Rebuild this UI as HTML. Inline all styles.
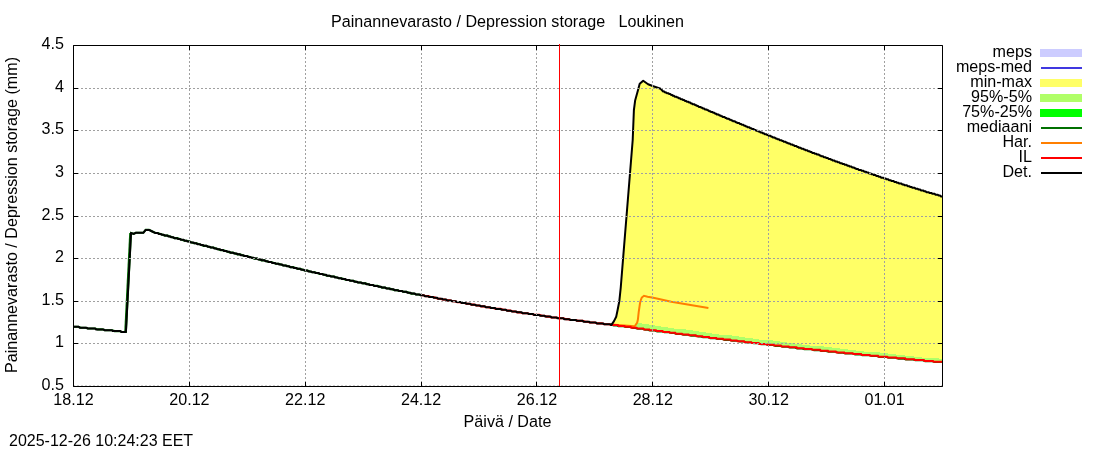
<!DOCTYPE html><html><head><meta charset="utf-8"><style>html,body{margin:0;padding:0;background:#fff;}svg{display:block;will-change:transform;}text{font-family:"Liberation Sans",sans-serif;font-size:16.13px;fill:#000;}</style></head><body>
<svg width="1100" height="450" viewBox="0 0 1100 450">
<rect width="1100" height="450" fill="#fff"/>
<polygon fill="#ffff66" points="611.30,324.20 614.00,321.10 616.20,316.70 617.60,310.00 619.30,301.30 620.70,288.00 632.70,140.00 633.90,110.00 635.20,100.20 637.90,90.40 639.70,83.80 643.20,80.70 648.10,84.20 652.60,86.00 660.60,88.70 663.20,91.53 663.80,91.53 664.41,91.53 665.01,92.39 665.61,92.39 666.22,92.39 666.82,93.24 667.42,93.24 668.03,93.24 668.63,93.24 669.23,94.09 669.84,94.09 670.44,94.09 671.05,94.95 671.65,94.95 672.25,94.95 672.86,95.80 673.46,95.80 674.06,95.80 674.67,96.65 675.27,96.65 675.87,96.65 676.48,96.65 677.08,97.50 677.68,97.50 678.29,97.50 678.89,98.36 679.49,98.36 680.10,98.36 680.70,99.21 681.30,99.21 681.91,99.21 682.51,99.21 683.11,100.06 683.72,100.06 684.32,100.06 684.92,100.91 685.53,100.91 686.13,100.91 686.74,101.77 687.34,101.77 687.94,101.77 688.55,101.77 689.15,102.62 689.75,102.62 690.36,102.62 690.96,103.47 691.56,103.47 692.17,103.47 692.77,104.32 693.37,104.32 693.98,104.32 694.58,104.32 695.18,105.18 695.79,105.18 696.39,105.18 696.99,106.03 697.60,106.03 698.20,106.03 698.80,106.88 699.41,106.88 700.01,106.88 700.62,106.88 701.22,107.73 701.82,107.73 702.43,107.73 703.03,108.59 703.63,108.59 704.24,108.59 704.84,109.44 705.44,109.44 706.05,109.44 706.65,109.44 707.25,110.29 707.86,110.29 708.46,110.29 709.06,111.14 709.67,111.14 710.27,111.14 710.87,111.99 711.48,111.99 712.08,111.99 712.68,111.99 713.29,112.85 713.89,112.85 714.50,112.85 715.10,113.70 715.70,113.70 716.31,113.70 716.91,114.55 717.51,114.55 718.12,114.55 718.72,114.55 719.32,115.40 719.93,115.40 720.53,115.40 721.13,116.26 721.74,116.26 722.34,116.26 722.94,117.11 723.55,117.11 724.15,117.11 724.75,117.11 725.36,117.96 725.96,117.96 726.56,117.96 727.17,118.81 727.77,118.81 728.37,118.81 728.98,118.81 729.58,119.67 730.19,119.67 730.79,119.67 731.39,120.52 732.00,120.52 732.60,120.52 733.20,121.37 733.81,121.37 734.41,121.37 735.01,121.37 735.62,122.22 736.22,122.22 736.82,122.22 737.43,123.08 738.03,123.08 738.63,123.08 739.24,123.08 739.84,123.93 740.44,123.93 741.05,123.93 741.65,124.78 742.25,124.78 742.86,124.78 743.46,124.78 744.07,125.63 744.67,125.63 745.27,125.63 745.88,126.49 746.48,126.49 747.08,126.49 747.69,127.34 748.29,127.34 748.89,127.34 749.50,127.34 750.10,128.19 750.70,128.19 751.31,128.19 751.91,129.05 752.51,129.05 753.12,129.05 753.72,129.05 754.32,129.90 754.93,129.90 755.53,129.90 756.13,130.75 756.74,130.75 757.34,130.75 757.95,130.75 758.55,131.60 759.15,131.60 759.76,131.60 760.36,132.45 760.96,132.45 761.57,132.45 762.17,132.45 762.77,133.31 763.38,133.31 763.98,133.31 764.58,134.16 765.19,134.16 765.79,134.16 766.39,134.16 767.00,135.01 767.60,135.01 768.20,135.01 768.81,135.87 769.41,135.87 770.01,135.87 770.62,135.87 771.22,136.72 771.82,136.72 772.43,136.72 773.03,137.57 773.64,137.57 774.24,137.57 774.84,137.57 775.45,138.42 776.05,138.42 776.65,138.42 777.26,139.28 777.86,139.28 778.46,139.28 779.07,139.28 779.67,140.13 780.27,140.13 780.88,140.13 781.48,140.13 782.08,140.98 782.69,140.98 783.29,140.98 783.89,141.83 784.50,141.83 785.10,141.83 785.70,141.83 786.31,142.69 786.91,142.69 787.52,142.69 788.12,143.54 788.72,143.54 789.33,143.54 789.93,143.54 790.53,144.39 791.14,144.39 791.74,144.39 792.34,144.39 792.95,145.24 793.55,145.24 794.15,145.24 794.76,146.10 795.36,146.10 795.96,146.10 796.57,146.10 797.17,146.95 797.77,146.95 798.38,146.95 798.98,147.80 799.58,147.80 800.19,147.80 800.79,147.80 801.40,148.65 802.00,148.65 802.60,148.65 803.21,148.65 803.81,149.50 804.41,149.50 805.02,149.50 805.62,150.36 806.22,150.36 806.83,150.36 807.43,150.36 808.03,151.21 808.64,151.21 809.24,151.21 809.84,151.21 810.45,152.06 811.05,152.06 811.65,152.06 812.26,152.91 812.86,152.91 813.46,152.91 814.07,152.91 814.67,153.77 815.27,153.77 815.88,153.77 816.48,153.77 817.09,154.62 817.69,154.62 818.29,154.62 818.90,154.62 819.50,155.47 820.10,155.47 820.71,155.47 821.31,156.32 821.91,156.32 822.52,156.32 823.12,156.32 823.72,157.18 824.33,157.18 824.93,157.18 825.53,157.18 826.14,158.03 826.74,158.03 827.34,158.03 827.95,158.03 828.55,158.88 829.15,158.88 829.76,158.88 830.36,158.88 830.97,159.73 831.57,159.73 832.17,159.73 832.78,160.59 833.38,160.59 833.98,160.59 834.59,160.59 835.19,161.44 835.79,161.44 836.40,161.44 837.00,161.44 837.60,162.29 838.21,162.29 838.81,162.29 839.41,162.29 840.02,163.14 840.62,163.14 841.22,163.14 841.83,163.14 842.43,164.00 843.03,164.00 843.64,164.00 844.24,164.00 844.85,164.85 845.45,164.85 846.05,164.85 846.66,164.85 847.26,165.70 847.86,165.70 848.47,165.70 849.07,165.70 849.67,166.56 850.28,166.56 850.88,166.56 851.48,166.56 852.09,167.41 852.69,167.41 853.29,167.41 853.90,167.41 854.50,168.26 855.10,168.26 855.71,168.26 856.31,169.11 856.91,169.11 857.52,169.11 858.12,169.11 858.72,169.97 859.33,169.97 859.93,169.97 860.54,169.97 861.14,169.97 861.74,170.82 862.35,170.82 862.95,170.82 863.55,170.82 864.16,171.67 864.76,171.67 865.36,171.67 865.97,171.67 866.57,172.52 867.17,172.52 867.78,172.52 868.38,172.52 868.98,173.38 869.59,173.38 870.19,173.38 870.79,173.38 871.40,174.23 872.00,174.23 872.60,174.23 873.21,174.23 873.81,175.08 874.42,175.08 875.02,175.08 875.62,175.08 876.23,175.93 876.83,175.93 877.43,175.93 878.04,175.93 878.64,176.78 879.24,176.78 879.85,176.78 880.45,176.78 881.05,177.64 881.66,177.64 882.26,177.64 882.86,177.64 883.47,177.64 884.07,178.49 884.67,178.49 885.28,178.49 885.88,178.49 886.48,179.34 887.09,179.34 887.69,179.34 888.30,179.34 888.90,180.19 889.50,180.19 890.11,180.19 890.71,180.19 891.31,181.05 891.92,181.05 892.52,181.05 893.12,181.05 893.73,181.05 894.33,181.90 894.93,181.90 895.54,181.90 896.14,181.90 896.74,182.75 897.35,182.75 897.95,182.75 898.55,182.75 899.16,183.61 899.76,183.61 900.36,183.61 900.97,183.61 901.57,183.61 902.17,184.46 902.78,184.46 903.38,184.46 903.99,184.46 904.59,185.31 905.19,185.31 905.80,185.31 906.40,185.31 907.00,185.31 907.61,186.16 908.21,186.16 908.81,186.16 909.42,186.16 910.02,187.02 910.62,187.02 911.23,187.02 911.83,187.02 912.43,187.87 913.04,187.87 913.64,187.87 914.24,187.87 914.85,187.87 915.45,188.72 916.05,188.72 916.66,188.72 917.26,188.72 917.87,188.72 918.47,189.57 919.07,189.57 919.68,189.57 920.28,189.57 920.88,190.43 921.49,190.43 922.09,190.43 922.69,190.43 923.30,190.43 923.90,191.28 924.50,191.28 925.11,191.28 925.71,191.28 926.31,192.13 926.92,192.13 927.52,192.13 928.12,192.13 928.73,192.13 929.33,192.98 929.93,192.98 930.54,192.98 931.14,192.98 931.75,192.98 932.35,193.84 932.95,193.84 933.56,193.84 934.16,193.84 934.76,193.84 935.37,194.69 935.97,194.69 936.57,194.69 937.18,194.69 937.78,194.69 938.38,195.54 938.99,195.54 939.59,195.54 940.19,195.54 940.80,196.39 941.40,196.39 942.00,196.39 942.50,196.39 942.50,361.78 942.00,361.78 941.40,361.78 940.80,361.78 940.19,361.78 939.59,361.78 938.99,361.78 938.38,361.78 937.78,361.78 937.17,361.78 936.57,361.78 935.97,361.78 935.36,361.78 934.76,361.78 934.16,361.78 933.55,361.78 932.95,360.93 932.35,360.93 931.74,360.93 931.14,360.93 930.54,360.93 929.93,360.93 929.33,360.93 928.73,360.93 928.12,360.93 927.52,360.93 926.92,360.93 926.31,360.93 925.71,360.93 925.11,360.93 924.50,360.93 923.90,360.07 923.30,360.07 922.69,360.07 922.09,360.07 921.48,360.07 920.88,360.07 920.28,360.07 919.67,360.07 919.07,360.07 918.47,360.07 917.86,360.07 917.26,360.07 916.66,360.07 916.05,360.07 915.45,360.07 914.85,360.07 914.24,359.22 913.64,359.22 913.04,359.22 912.43,359.22 911.83,359.22 911.23,359.22 910.62,359.22 910.02,359.22 909.42,359.22 908.81,359.22 908.21,359.22 907.60,359.22 907.00,359.22 906.40,359.22 905.79,359.22 905.19,358.37 904.59,358.37 903.98,358.37 903.38,358.37 902.78,358.37 902.17,358.37 901.57,358.37 900.97,358.37 900.36,358.37 899.76,358.37 899.16,358.37 898.55,358.37 897.95,358.37 897.35,358.37 896.74,358.37 896.14,357.51 895.54,357.51 894.93,357.51 894.33,357.51 893.72,357.51 893.12,357.51 892.52,357.51 891.91,357.51 891.31,357.51 890.71,357.51 890.10,357.51 889.50,357.51 888.90,357.51 888.29,357.51 887.69,357.51 887.09,356.66 886.48,356.66 885.88,356.66 885.28,356.66 884.67,356.66 884.07,356.66 883.47,356.66 882.86,356.66 882.26,356.66 881.66,356.66 881.05,356.66 880.45,356.66 879.85,356.66 879.24,356.66 878.64,356.66 878.03,355.81 877.43,355.81 876.83,355.81 876.22,355.81 875.62,355.81 875.02,355.81 874.41,355.81 873.81,355.81 873.21,355.81 872.60,355.81 872.00,355.81 871.40,355.81 870.79,355.81 870.19,355.81 869.59,354.96 868.98,354.96 868.38,354.96 867.78,354.96 867.17,354.96 866.57,354.96 865.97,354.96 865.36,354.96 864.76,354.96 864.15,354.96 863.55,354.96 862.95,354.96 862.34,354.96 861.74,354.96 861.14,354.11 860.53,354.11 859.93,354.11 859.33,354.11 858.72,354.11 858.12,354.11 857.52,354.11 856.91,354.11 856.31,354.11 855.71,354.11 855.10,354.11 854.50,354.11 853.90,354.11 853.29,354.11 852.69,353.25 852.09,353.25 851.48,353.25 850.88,353.25 850.27,353.25 849.67,353.25 849.07,353.25 848.46,353.25 847.86,353.25 847.26,353.25 846.65,353.25 846.05,353.25 845.45,353.25 844.84,353.25 844.24,352.40 843.64,352.40 843.03,352.40 842.43,352.40 841.83,352.40 841.22,352.40 840.62,352.40 840.02,352.40 839.41,352.40 838.81,352.40 838.21,352.40 837.60,352.40 837.00,352.40 836.40,352.40 835.79,351.55 835.19,351.55 834.58,351.55 833.98,351.55 833.38,351.55 832.77,351.55 832.17,351.55 831.57,351.55 830.96,351.55 830.36,351.55 829.76,351.55 829.15,351.55 828.55,351.55 827.95,350.69 827.34,350.69 826.74,350.69 826.14,350.69 825.53,350.69 824.93,350.69 824.33,350.69 823.72,350.69 823.12,350.69 822.52,350.69 821.91,350.69 821.31,350.69 820.70,350.69 820.10,349.84 819.50,349.84 818.89,349.84 818.29,349.84 817.69,349.84 817.08,349.84 816.48,349.84 815.88,349.84 815.27,349.84 814.67,349.84 814.07,349.84 813.46,349.84 812.86,349.84 812.26,349.84 811.65,348.99 811.05,348.99 810.45,348.99 809.84,348.99 809.24,348.99 808.64,348.99 808.03,348.99 807.43,348.99 806.82,348.99 806.22,348.99 805.62,348.99 805.01,348.99 804.41,348.99 803.81,348.14 803.20,348.14 802.60,348.14 802.00,348.14 801.39,348.14 800.79,348.14 800.19,348.14 799.58,348.14 798.98,348.14 798.38,348.14 797.77,348.14 797.17,348.14 796.57,347.29 795.96,347.29 795.36,347.29 794.76,347.29 794.15,347.29 793.55,347.29 792.95,347.29 792.34,347.29 791.74,347.29 791.13,347.29 790.53,347.29 789.93,347.29 789.32,347.29 788.72,346.43 788.12,346.43 787.51,346.43 786.91,346.43 786.31,346.43 785.70,346.43 785.10,346.43 784.50,346.43 783.89,346.43 783.29,346.43 782.69,346.43 782.08,346.43 781.48,346.43 780.88,345.58 780.27,345.58 779.67,345.58 779.07,345.58 778.46,345.58 777.86,345.58 777.25,345.58 776.65,345.58 776.05,345.58 775.44,345.58 774.84,345.58 774.24,345.58 773.63,344.73 773.03,344.73 772.43,344.73 771.82,344.73 771.22,344.73 770.62,344.73 770.01,344.73 769.41,344.73 768.81,344.73 768.20,344.73 767.60,344.73 767.00,344.73 766.39,343.88 765.79,343.88 765.19,343.88 764.58,343.88 763.98,343.88 763.37,343.88 762.77,343.88 762.17,343.88 761.56,343.88 760.96,343.88 760.36,343.88 759.75,343.88 759.15,343.88 758.55,343.02 757.94,343.02 757.34,343.02 756.74,343.02 756.13,343.02 755.53,343.02 754.93,343.02 754.32,343.02 753.72,343.02 753.12,343.02 752.51,343.02 751.91,343.02 751.31,342.17 750.70,342.17 750.10,342.17 749.50,342.17 748.89,342.17 748.29,342.17 747.68,342.17 747.08,342.17 746.48,342.17 745.87,342.17 745.27,342.17 744.67,342.17 744.06,341.32 743.46,341.32 742.86,341.32 742.25,341.32 741.65,341.32 741.05,341.32 740.44,341.32 739.84,341.32 739.24,341.32 738.63,341.32 738.03,341.32 737.43,341.32 736.82,340.46 736.22,340.46 735.62,340.46 735.01,340.46 734.41,340.46 733.80,340.46 733.20,340.46 732.60,340.46 731.99,340.46 731.39,340.46 730.79,340.46 730.18,339.61 729.58,339.61 728.98,339.61 728.37,339.61 727.77,339.61 727.17,339.61 726.56,339.61 725.96,339.61 725.36,339.61 724.75,339.61 724.15,339.61 723.55,339.61 722.94,338.76 722.34,338.76 721.74,338.76 721.13,338.76 720.53,338.76 719.92,338.76 719.32,338.76 718.72,338.76 718.11,338.76 717.51,338.76 716.91,338.76 716.30,337.91 715.70,337.91 715.10,337.91 714.49,337.91 713.89,337.91 713.29,337.91 712.68,337.91 712.08,337.91 711.48,337.91 710.87,337.91 710.27,337.91 709.67,337.91 709.06,337.06 708.46,337.06 707.86,337.06 707.25,337.06 706.65,337.06 706.05,337.06 705.44,337.06 704.84,337.06 704.23,337.06 703.63,337.06 703.03,337.06 702.42,336.20 701.82,336.20 701.22,336.20 700.61,336.20 700.01,336.20 699.41,336.20 698.80,336.20 698.20,336.20 697.60,336.20 696.99,336.20 696.39,336.20 695.79,335.35 695.18,335.35 694.58,335.35 693.98,335.35 693.37,335.35 692.77,335.35 692.17,335.35 691.56,335.35 690.96,335.35 690.35,335.35 689.75,335.35 689.15,335.35 688.54,334.50 687.94,334.50 687.34,334.50 686.73,334.50 686.13,334.50 685.53,334.50 684.92,334.50 684.32,334.50 683.72,334.50 683.11,334.50 682.51,334.50 681.91,333.64 681.30,333.64 680.70,333.64 680.10,333.64 679.49,333.64 678.89,333.64 678.29,333.64 677.68,333.64 677.08,333.64 676.47,333.64 675.87,333.64 675.27,332.79 674.66,332.79 674.06,332.79 673.46,332.79 672.85,332.79 672.25,332.79 671.65,332.79 671.04,332.79 670.44,332.79 669.84,332.79 669.23,331.94 668.63,331.94 668.03,331.94 667.42,331.94 666.82,331.94 666.22,331.94 665.61,331.94 665.01,331.94 664.41,331.94 663.80,331.94 663.20,331.94 662.60,331.09 661.99,331.09 661.39,331.09 660.78,331.09 660.18,331.09 659.58,331.09 658.97,331.09 658.37,331.09 657.77,331.09 657.16,331.09 656.56,331.09 655.96,330.24 655.35,330.24 654.75,330.24 654.15,330.24 653.54,330.24 652.94,330.24 652.34,330.24 651.73,330.24 651.13,330.24 650.53,330.24 649.92,330.24 649.32,329.38 648.72,329.38 648.11,329.38 647.51,329.38 646.90,329.38 646.30,329.38 645.70,329.38 645.09,329.38 644.49,329.38 643.89,329.38 643.28,328.53 642.68,328.53 642.08,328.53 641.47,328.53 640.87,328.53 640.27,328.53 639.66,328.53 639.06,328.53 638.46,328.53 637.85,328.53 637.25,328.53 636.65,327.68 636.04,327.68 635.44,327.68 634.84,327.68 634.23,327.68 633.63,327.68 633.02,327.68 632.42,327.68 631.82,327.68 631.21,327.68 630.61,326.82 630.01,326.82 629.40,326.82 628.80,326.82 628.20,326.82 627.59,326.82 626.99,326.82 626.39,326.82 625.78,326.82 625.18,326.82 624.58,325.97 623.97,325.97 623.37,325.97 622.77,325.97 622.16,325.97 621.56,325.97 620.96,325.97 620.35,325.97 619.75,325.97 619.15,325.97 618.54,325.97 617.94,325.12 617.33,325.12 616.73,325.12 616.13,325.12 615.52,325.12 614.92,325.12 614.32,325.12 613.71,325.12 613.11,325.12 612.51,325.12 611.90,324.27 611.30,324.27"/>
<polygon fill="#b0ff68" shape-rendering="crispEdges" points="636.00,323.50 640.00,323.41 640.60,323.41 641.21,323.41 641.81,323.41 642.41,323.41 643.02,324.27 643.62,324.27 644.22,324.27 644.83,324.27 645.43,324.27 646.03,324.27 646.64,324.27 647.24,324.27 647.85,324.27 648.45,324.27 649.05,325.12 649.66,325.12 650.26,325.12 650.86,325.12 651.47,325.12 652.07,325.12 652.67,325.12 653.28,325.12 653.88,325.12 654.48,325.12 655.09,325.97 655.69,325.97 656.29,325.97 656.90,325.97 657.50,325.97 658.10,325.97 658.71,325.97 659.31,325.97 659.91,325.97 660.52,325.97 661.12,326.82 661.72,326.82 662.33,326.82 662.93,326.82 663.54,326.82 664.14,326.82 664.74,326.82 665.35,326.82 665.95,326.82 666.55,326.82 667.16,326.82 667.76,327.68 668.36,327.68 668.97,327.68 669.57,327.68 670.17,327.68 670.78,327.68 671.38,327.68 671.98,327.68 672.59,327.68 673.19,327.68 673.79,328.53 674.40,328.53 675.00,328.53 675.60,328.53 676.21,328.53 676.81,328.53 677.42,328.53 678.02,328.53 678.62,328.53 679.23,328.53 679.83,328.53 680.43,329.38 681.04,329.38 681.64,329.38 682.24,329.38 682.85,329.38 683.45,329.38 684.05,329.38 684.66,329.38 685.26,329.38 685.86,329.38 686.47,330.24 687.07,330.24 687.67,330.24 688.28,330.24 688.88,330.24 689.48,330.24 690.09,330.24 690.69,330.24 691.30,330.24 691.90,330.24 692.50,330.24 693.11,331.09 693.71,331.09 694.31,331.09 694.92,331.09 695.52,331.09 696.12,331.09 696.73,331.09 697.33,331.09 697.93,331.09 698.54,331.09 699.14,331.94 699.74,331.94 700.35,331.94 700.95,331.94 701.55,331.94 702.16,331.94 702.76,331.94 703.36,331.94 703.97,331.94 704.57,331.94 705.17,331.94 705.78,332.79 706.38,332.79 706.99,332.79 707.59,332.79 708.19,332.79 708.80,332.79 709.40,332.79 710.00,332.79 710.61,332.79 711.21,332.79 711.81,332.79 712.42,333.64 713.02,333.64 713.62,333.64 714.23,333.64 714.83,333.64 715.43,333.64 716.04,333.64 716.64,333.64 717.24,333.64 717.85,333.64 718.45,333.64 719.05,334.50 719.66,334.50 720.26,334.50 720.87,334.50 721.47,334.50 722.07,334.50 722.68,334.50 723.28,334.50 723.88,334.50 724.49,334.50 725.09,334.50 725.69,335.35 726.30,335.35 726.90,335.35 727.50,335.35 728.11,335.35 728.71,335.35 729.31,335.35 729.92,335.35 730.52,335.35 731.12,335.35 731.73,335.35 732.33,336.20 732.93,336.20 733.54,336.20 734.14,336.20 734.75,336.20 735.35,336.20 735.95,336.20 736.56,336.20 737.16,336.20 737.76,336.20 738.37,336.20 738.97,337.06 739.57,337.06 740.18,337.06 740.78,337.06 741.38,337.06 741.99,337.06 742.59,337.06 743.19,337.06 743.80,337.06 744.40,337.06 745.00,337.06 745.61,337.91 746.21,337.91 746.81,337.91 747.42,337.91 748.02,337.91 748.62,337.91 749.23,337.91 749.83,337.91 750.44,337.91 751.04,337.91 751.64,337.91 752.25,337.91 752.85,338.76 753.45,338.76 754.06,338.76 754.66,338.76 755.26,338.76 755.87,338.76 756.47,338.76 757.07,338.76 757.68,338.76 758.28,338.76 758.88,338.76 759.49,339.61 760.09,339.61 760.69,339.61 761.30,339.61 761.90,339.61 762.50,339.61 763.11,339.61 763.71,339.61 764.32,339.61 764.92,339.61 765.52,339.61 766.13,339.61 766.73,340.46 767.33,340.46 767.94,340.46 768.54,340.46 769.14,340.46 769.75,340.46 770.35,340.46 770.95,340.46 771.56,340.46 772.16,340.46 772.76,340.46 773.37,341.32 773.97,341.32 774.57,341.32 775.18,341.32 775.78,341.32 776.38,341.32 776.99,341.32 777.59,341.32 778.20,341.32 778.80,341.32 779.40,341.32 780.01,341.32 780.61,342.17 781.21,342.17 781.82,342.17 782.42,342.17 783.02,342.17 783.63,342.17 784.23,342.17 784.83,342.17 785.44,342.17 786.04,342.17 786.64,342.17 787.25,342.17 787.85,343.02 788.45,343.02 789.06,343.02 789.66,343.02 790.26,343.02 790.87,343.02 791.47,343.02 792.07,343.02 792.68,343.02 793.28,343.02 793.89,343.02 794.49,343.02 795.09,343.88 795.70,343.88 796.30,343.88 796.90,343.88 797.51,343.88 798.11,343.88 798.71,343.88 799.32,343.88 799.92,343.88 800.52,343.88 801.13,343.88 801.73,343.88 802.33,344.73 802.94,344.73 803.54,344.73 804.14,344.73 804.75,344.73 805.35,344.73 805.95,344.73 806.56,344.73 807.16,344.73 807.77,344.73 808.37,344.73 808.97,344.73 809.58,344.73 810.18,345.58 810.78,345.58 811.39,345.58 811.99,345.58 812.59,345.58 813.20,345.58 813.80,345.58 814.40,345.58 815.01,345.58 815.61,345.58 816.21,345.58 816.82,345.58 817.42,346.43 818.02,346.43 818.63,346.43 819.23,346.43 819.83,346.43 820.44,346.43 821.04,346.43 821.65,346.43 822.25,346.43 822.85,346.43 823.46,346.43 824.06,346.43 824.66,347.29 825.27,347.29 825.87,347.29 826.47,347.29 827.08,347.29 827.68,347.29 828.28,347.29 828.89,347.29 829.49,347.29 830.09,347.29 830.70,347.29 831.30,347.29 831.90,347.29 832.51,348.14 833.11,348.14 833.71,348.14 834.32,348.14 834.92,348.14 835.52,348.14 836.13,348.14 836.73,348.14 837.34,348.14 837.94,348.14 838.54,348.14 839.15,348.14 839.75,348.14 840.35,348.99 840.96,348.99 841.56,348.99 842.16,348.99 842.77,348.99 843.37,348.99 843.97,348.99 844.58,348.99 845.18,348.99 845.78,348.99 846.39,348.99 846.99,348.99 847.59,348.99 848.20,349.84 848.80,349.84 849.40,349.84 850.01,349.84 850.61,349.84 851.22,349.84 851.82,349.84 852.42,349.84 853.03,349.84 853.63,349.84 854.23,349.84 854.84,349.84 855.44,349.84 856.04,350.69 856.65,350.69 857.25,350.69 857.85,350.69 858.46,350.69 859.06,350.69 859.66,350.69 860.27,350.69 860.87,350.69 861.47,350.69 862.08,350.69 862.68,350.69 863.28,350.69 863.89,351.55 864.49,351.55 865.10,351.55 865.70,351.55 866.30,351.55 866.91,351.55 867.51,351.55 868.11,351.55 868.72,351.55 869.32,351.55 869.92,351.55 870.53,351.55 871.13,351.55 871.73,352.40 872.34,352.40 872.94,352.40 873.54,352.40 874.15,352.40 874.75,352.40 875.35,352.40 875.96,352.40 876.56,352.40 877.16,352.40 877.77,352.40 878.37,352.40 878.97,352.40 879.58,352.40 880.18,353.25 880.79,353.25 881.39,353.25 881.99,353.25 882.60,353.25 883.20,353.25 883.80,353.25 884.41,353.25 885.01,353.25 885.61,353.25 886.22,353.25 886.82,353.25 887.42,353.25 888.03,354.11 888.63,354.11 889.23,354.11 889.84,354.11 890.44,354.11 891.04,354.11 891.65,354.11 892.25,354.11 892.85,354.11 893.46,354.11 894.06,354.11 894.67,354.11 895.27,354.11 895.87,354.11 896.48,354.96 897.08,354.96 897.68,354.96 898.29,354.96 898.89,354.96 899.49,354.96 900.10,354.96 900.70,354.96 901.30,354.96 901.91,354.96 902.51,354.96 903.11,354.96 903.72,354.96 904.32,354.96 904.92,355.81 905.53,355.81 906.13,355.81 906.73,355.81 907.34,355.81 907.94,355.81 908.55,355.81 909.15,355.81 909.75,355.81 910.36,355.81 910.96,355.81 911.56,355.81 912.17,355.81 912.77,355.81 913.37,355.81 913.98,356.66 914.58,356.66 915.18,356.66 915.79,356.66 916.39,356.66 916.99,356.66 917.60,356.66 918.20,356.66 918.80,356.66 919.41,356.66 920.01,356.66 920.61,356.66 921.22,356.66 921.82,356.66 922.42,357.51 923.03,357.51 923.63,357.51 924.24,357.51 924.84,357.51 925.44,357.51 926.05,357.51 926.65,357.51 927.25,357.51 927.86,357.51 928.46,357.51 929.06,357.51 929.67,357.51 930.27,357.51 930.87,357.51 931.48,358.37 932.08,358.37 932.68,358.37 933.29,358.37 933.89,358.37 934.49,358.37 935.10,358.37 935.70,358.37 936.30,358.37 936.91,358.37 937.51,358.37 938.12,358.37 938.72,358.37 939.32,358.37 939.93,359.22 940.53,359.22 941.13,359.22 941.74,359.22 942.34,359.22 942.50,359.22 942.50,361.48 942.34,361.48 941.74,361.48 941.13,361.48 940.53,361.48 939.93,361.48 939.32,361.48 938.72,361.48 938.12,361.48 937.51,361.48 936.91,361.48 936.30,361.48 935.70,361.48 935.10,361.48 934.49,361.48 933.89,361.48 933.29,361.10 932.68,360.62 932.08,360.62 931.48,360.62 930.87,360.62 930.27,360.62 929.67,360.62 929.06,360.62 928.46,360.62 927.86,360.62 927.25,360.62 926.65,360.62 926.05,360.62 925.44,360.62 924.84,360.62 924.24,360.25 923.63,359.77 923.03,359.77 922.42,359.77 921.82,359.77 921.22,359.77 920.61,359.77 920.01,359.77 919.41,359.77 918.80,359.77 918.20,359.77 917.60,359.77 916.99,359.77 916.39,359.77 915.79,359.77 915.18,359.77 914.58,359.40 913.98,358.92 913.37,358.92 912.77,358.92 912.17,358.92 911.56,358.92 910.96,358.92 910.36,358.92 909.75,358.92 909.15,358.92 908.55,358.92 907.94,358.92 907.34,358.92 906.73,358.92 906.13,358.92 905.53,358.54 904.92,358.07 904.32,358.07 903.72,358.07 903.11,358.07 902.51,358.07 901.91,358.07 901.30,358.07 900.70,358.07 900.10,358.07 899.49,358.07 898.89,358.07 898.29,358.07 897.68,358.07 897.08,358.07 896.48,357.69 895.87,357.21 895.27,357.21 894.67,357.21 894.06,357.21 893.46,357.21 892.85,357.21 892.25,357.21 891.65,357.21 891.04,357.21 890.44,357.21 889.84,357.21 889.23,357.21 888.63,357.21 888.03,357.21 887.42,356.84 886.82,356.36 886.22,356.36 885.61,356.36 885.01,356.36 884.41,356.36 883.80,356.36 883.20,356.36 882.60,356.36 881.99,356.36 881.39,356.36 880.79,356.36 880.18,356.36 879.58,356.36 878.97,356.36 878.37,355.99 877.77,355.51 877.16,355.51 876.56,355.51 875.96,355.51 875.35,355.51 874.75,355.51 874.15,355.51 873.54,355.51 872.94,355.51 872.34,355.51 871.73,355.51 871.13,355.51 870.53,355.51 869.92,355.13 869.32,354.66 868.72,354.66 868.11,354.66 867.51,354.66 866.91,354.66 866.30,354.66 865.70,354.66 865.10,354.66 864.49,354.66 863.89,354.66 863.28,354.66 862.68,354.66 862.08,354.66 861.47,354.28 860.87,353.81 860.27,353.81 859.66,353.81 859.06,353.81 858.46,353.81 857.85,353.81 857.25,353.81 856.65,353.81 856.04,353.81 855.44,353.81 854.84,353.81 854.23,353.81 853.63,353.81 853.03,353.43 852.42,352.95 851.82,352.95 851.22,352.95 850.61,352.95 850.01,352.95 849.40,352.95 848.80,352.95 848.20,352.95 847.59,352.95 846.99,352.95 846.39,352.95 845.78,352.95 845.18,352.95 844.58,352.58 843.97,352.10 843.37,352.10 842.77,352.10 842.16,352.10 841.56,352.10 840.96,352.10 840.35,352.10 839.75,352.10 839.15,352.10 838.54,352.10 837.94,352.10 837.34,352.10 836.73,352.10 836.13,351.72 835.52,351.25 834.92,351.25 834.32,351.25 833.71,351.25 833.11,351.25 832.51,351.25 831.90,351.25 831.30,351.25 830.70,351.25 830.09,351.25 829.49,351.25 828.89,351.25 828.28,350.87 827.68,350.39 827.08,350.39 826.47,350.39 825.87,350.39 825.27,350.39 824.66,350.39 824.06,350.39 823.46,350.39 822.85,350.39 822.25,350.39 821.65,350.39 821.04,350.39 820.44,350.02 819.83,349.54 819.23,349.54 818.63,349.54 818.02,349.54 817.42,349.54 816.82,349.54 816.21,349.54 815.61,349.54 815.01,349.54 814.40,349.54 813.80,349.54 813.20,349.54 812.59,349.54 811.99,349.17 811.39,348.69 810.78,348.69 810.18,348.69 809.58,348.69 808.97,348.69 808.37,348.69 807.77,348.69 807.16,348.69 806.56,348.69 805.95,348.69 805.35,348.69 804.75,348.69 804.14,348.31 803.54,347.84 802.94,347.84 802.33,347.84 801.73,347.84 801.13,347.84 800.52,347.84 799.92,347.84 799.32,347.84 798.71,347.84 798.11,347.84 797.51,347.84 796.90,347.46 796.30,346.99 795.70,346.99 795.09,346.99 794.49,346.99 793.89,346.99 793.28,346.99 792.68,346.99 792.07,346.99 791.47,346.99 790.87,346.99 790.26,346.99 789.66,346.99 789.06,346.61 788.45,346.13 787.85,346.13 787.25,346.13 786.64,346.13 786.04,346.13 785.44,346.13 784.83,346.13 784.23,346.13 783.63,346.13 783.02,346.13 782.42,346.13 781.82,346.13 781.21,345.76 780.61,345.28 780.01,345.28 779.40,345.28 778.80,345.28 778.20,345.28 777.59,345.28 776.99,345.28 776.38,345.28 775.78,345.28 775.18,345.28 774.57,345.28 773.97,344.90 773.37,344.43 772.76,344.43 772.16,344.43 771.56,344.43 770.95,344.43 770.35,344.43 769.75,344.43 769.14,344.43 768.54,344.43 767.94,344.43 767.33,344.43 766.73,344.05 766.13,343.57 765.52,343.57 764.92,343.57 764.32,343.57 763.71,343.57 763.11,343.57 762.50,343.57 761.90,343.57 761.30,343.57 760.69,343.57 760.09,343.57 759.49,343.57 758.88,343.20 758.28,342.72 757.68,342.72 757.07,342.72 756.47,342.72 755.87,342.72 755.26,342.72 754.66,342.72 754.06,342.72 753.45,342.72 752.85,342.72 752.25,342.72 751.64,342.35 751.04,341.87 750.44,341.87 749.83,341.87 749.23,341.87 748.62,341.87 748.02,341.87 747.42,341.87 746.81,341.87 746.21,341.87 745.61,341.87 745.00,341.87 744.40,341.49 743.80,341.02 743.19,341.02 742.59,341.02 741.99,341.02 741.38,341.02 740.78,341.02 740.18,341.02 739.57,341.02 738.97,341.02 738.37,341.02 737.76,341.02 737.16,340.64 736.56,340.16 735.95,340.16 735.35,340.16 734.75,340.16 734.14,340.16 733.54,340.16 732.93,340.16 732.33,340.16 731.73,340.16 731.12,340.16 730.52,339.79 729.92,339.31 729.31,339.31 728.71,339.31 728.11,339.31 727.50,339.31 726.90,339.31 726.30,339.31 725.69,339.31 725.09,339.31 724.49,339.31 723.88,339.31 723.28,338.94 722.68,338.46 722.07,338.46 721.47,338.46 720.87,338.46 720.26,338.46 719.66,338.46 719.05,338.46 718.45,338.46 717.85,338.46 717.24,338.46 716.64,338.08 716.04,337.61 715.43,337.61 714.83,337.61 714.23,337.61 713.62,337.61 713.02,337.61 712.42,337.61 711.81,337.61 711.21,337.61 710.61,337.61 710.00,337.61 709.40,337.23 708.80,336.75 708.19,336.75 707.59,336.75 706.99,336.75 706.38,336.75 705.78,336.75 705.17,336.75 704.57,336.75 703.97,336.75 703.36,336.75 702.76,336.38 702.16,335.90 701.55,335.90 700.95,335.90 700.35,335.90 699.74,335.90 699.14,335.90 698.54,335.90 697.93,335.90 697.33,335.90 696.73,335.90 696.12,335.53 695.52,335.05 694.92,335.05 694.31,335.05 693.71,335.05 693.11,335.05 692.50,335.05 691.90,335.05 691.30,335.05 690.69,335.05 690.09,335.05 689.48,335.05 688.88,334.67 688.28,334.20 687.67,334.20 687.07,334.20 686.47,334.20 685.86,334.20 685.26,334.20 684.66,334.20 684.05,334.20 683.45,334.20 682.85,334.20 682.24,333.82 681.64,333.34 681.04,333.34 680.43,333.34 679.83,333.34 679.23,333.34 678.62,333.34 678.02,333.34 677.42,333.34 676.81,333.34 676.21,333.34 675.60,332.97 675.00,332.49 674.40,332.49 673.79,332.49 673.19,332.49 672.59,332.49 671.98,332.49 671.38,332.49 670.78,332.49 670.17,332.49 669.57,332.12 668.97,331.64 668.36,331.64 667.76,331.64 667.16,331.64 666.55,331.64 665.95,331.64 665.35,331.64 664.74,331.64 664.14,331.64 663.54,331.64 662.93,331.26 662.33,330.79 661.72,330.79 661.12,330.79 660.52,330.79 659.91,330.79 659.31,330.79 658.71,330.79 658.10,330.79 657.50,330.79 656.90,330.79 656.29,330.41 655.69,329.94 655.09,329.94 654.48,329.94 653.88,329.94 653.28,329.94 652.67,329.94 652.07,329.94 651.47,329.94 650.86,329.94 650.26,329.94 649.66,329.56 649.05,329.08 648.45,329.08 647.85,329.08 647.24,329.08 646.64,329.08 646.03,329.08 645.43,329.08 644.83,329.08 644.22,329.08 643.62,328.71 643.02,328.23 642.41,328.23 641.81,328.23 641.21,328.23 640.60,328.23 640.00,328.23 636.00,327.38"/>
<polyline fill="none" stroke="#007000" stroke-width="1.8" points="611.30,324.67 613.71,325.52 616.13,325.52 618.54,326.37 620.96,326.37 623.37,326.37 625.78,327.22 628.20,327.22 630.61,327.22 633.02,328.08 635.44,328.08 637.85,328.93 640.27,328.93 642.68,328.93 645.09,329.78 647.51,329.78 649.92,330.63 652.34,330.63 654.75,330.63 657.16,331.49 659.58,331.49 661.99,331.49 664.41,332.34 666.82,332.34 669.23,332.34 671.65,333.19 674.06,333.19 676.48,334.04 678.89,334.04 681.30,334.04 683.72,334.90 686.13,334.90 688.54,334.90 690.96,335.75 693.37,335.75 695.79,335.75 698.20,336.60 700.61,336.60 703.03,337.45 705.44,337.45 707.86,337.45 710.27,338.31 712.68,338.31 715.10,338.31 717.51,339.16 719.93,339.16 722.34,339.16 724.75,340.01 727.17,340.01 729.58,340.01 731.99,340.86 734.41,340.86 736.82,340.86 739.24,341.72 741.65,341.72 744.06,341.72 746.48,342.57 748.89,342.57 751.31,342.57 753.72,343.42 756.13,343.42 758.55,343.42 760.96,344.27 763.38,344.27 765.79,344.27 768.20,345.13 770.62,345.13 773.03,345.13 775.44,345.98 777.86,345.98 780.27,345.98 782.69,346.83 785.10,346.83 787.51,346.83 789.93,347.69 792.34,347.69 794.76,347.69 797.17,348.54 799.58,348.54 802.00,348.54 804.41,349.39 806.83,349.39 809.24,349.39 811.65,349.39 814.07,350.24 816.48,350.24 818.89,350.24 821.31,351.09 823.72,351.09 826.14,351.09 828.55,351.95 830.96,351.95 833.38,351.95 835.79,351.95 838.21,352.80 840.62,352.80 843.03,352.80 845.45,353.65 847.86,353.65 850.28,353.65 852.69,353.65 855.10,354.50 857.52,354.50 859.93,354.50 862.34,355.36 864.76,355.36 867.17,355.36 869.59,355.36 872.00,356.21 874.41,356.21 876.83,356.21 879.24,357.06 881.66,357.06 884.07,357.06 886.48,357.06 888.90,357.91 891.31,357.91 893.73,357.91 896.14,357.91 898.55,358.77 900.97,358.77 903.38,358.77 905.79,359.62 908.21,359.62 910.62,359.62 913.04,359.62 915.45,360.47 917.86,360.47 920.28,360.47 922.69,360.47 925.11,361.32 927.52,361.32 929.93,361.32 932.35,361.32 934.76,362.18 937.18,362.18 939.59,362.18 942.00,362.18 942.50,362.18"/>
<polyline fill="none" stroke="#007000" stroke-width="2.1" points="73.50,326.82 75.91,326.82 78.33,326.82 80.74,327.68 83.16,327.68 85.57,327.68 87.98,328.53 90.40,328.53 92.81,328.53 95.23,328.53 97.64,329.38 100.05,329.38 102.47,329.38 104.88,330.24 107.29,330.24 109.71,330.24 112.12,330.24 114.54,331.09 116.95,331.09 119.36,331.09 121.78,331.94 124.19,331.94 125.90,331.94 131.00,233.00 133.70,233.90 135.70,232.80 143.30,232.80 145.70,229.90 149.00,229.90 151.30,231.00 155.50,233.05 157.91,233.05 160.33,233.90 162.74,234.76 165.16,235.61 167.57,235.61 169.98,236.46 172.40,237.31 174.81,238.16 177.23,238.16 179.64,239.02 182.05,239.87 184.47,240.72 186.88,240.72 189.29,241.57 191.71,242.43 194.12,243.28 196.54,243.28 198.95,244.13 201.36,244.98 203.78,245.84 206.19,245.84 208.61,246.69 211.02,247.54 213.43,247.54 215.85,248.39 218.26,249.25 220.68,250.10 223.09,250.10 225.50,250.95 227.92,251.81 230.33,252.66 232.74,252.66 235.16,253.51 237.57,254.36 239.99,254.36 242.40,255.22 244.81,256.07 247.23,256.07 249.64,256.92 252.06,257.77 254.47,258.62 256.88,258.62 259.30,259.48 261.71,260.33 264.13,260.33 266.54,261.18 268.95,262.03 271.37,262.03 273.78,262.89 276.19,263.74 278.61,263.74 281.02,264.59 283.44,265.44 285.85,265.44 288.26,266.30 290.68,267.15 293.09,267.15 295.51,268.00 297.92,268.86 300.33,268.86 302.75,269.71 305.16,270.56 307.58,270.56 309.99,271.41 312.40,272.26 314.82,272.26 317.23,273.12 319.64,273.97 322.06,273.97 324.47,274.82 326.89,275.68 329.30,275.68 331.71,276.53 334.13,276.53 336.54,277.38 338.96,278.23 341.37,278.23 343.78,279.09 346.20,279.94 348.61,279.94 351.03,280.79 353.44,280.79 355.85,281.64 358.27,282.50 360.68,282.50 363.09,283.35 365.51,283.35 367.92,284.20 370.34,285.05 372.75,285.05 375.16,285.91 377.58,285.91 379.99,286.76 382.41,287.61 384.82,287.61 387.23,288.46 389.65,288.46 392.06,289.32 394.48,290.17 396.89,290.17 399.30,291.02 401.72,291.02 404.13,291.87 406.54,291.87 408.96,292.73 411.37,293.58 413.79,293.58 416.20,294.43 418.61,294.43 421.03,295.28"/>
<polyline fill="none" stroke="#007000" stroke-width="2" points="125.2,332.5 130.2,233"/>
<polyline fill="none" stroke="#ff7f00" stroke-width="2" points="611.30,324.60 634.70,326.20 637.20,322.50 637.90,319.50 638.70,312.20 640.00,303.30 641.00,299.50 641.80,297.60 644.00,295.80 647.60,296.70 652.00,297.60 654.50,298.10 671.30,301.70 708.40,307.90"/>
<polyline fill="none" stroke="#ff0000" stroke-width="2.1" points="421.03,295.28 423.44,295.28 425.86,296.13 428.27,296.13 430.68,296.99 433.10,296.99 435.51,297.84 437.93,298.69 440.34,298.69 442.75,299.54 445.17,299.54 447.58,300.40 449.99,300.40 452.41,301.25 454.82,301.25 457.24,302.10 459.65,302.10 462.06,302.95 464.48,302.95 466.89,303.81 469.31,303.81 471.72,304.66 474.13,304.66 476.55,305.51 478.96,305.51 481.38,306.37 483.79,306.37 486.20,307.22 488.62,307.22 491.03,308.07 493.44,308.07 495.86,308.92 498.27,308.92 500.69,308.92 503.10,309.78 505.51,309.78 507.93,310.63 510.34,310.63 512.76,311.48 515.17,311.48 517.58,312.33 520.00,312.33 522.41,313.18 524.83,313.18 527.24,313.18 529.65,314.04 532.07,314.04 534.48,314.89 536.89,314.89 539.31,314.89 541.72,315.74 544.14,315.74 546.55,316.59 548.96,316.59 551.38,317.45 553.79,317.45 556.21,317.45 558.62,318.30 561.03,318.30 563.45,318.30 565.86,319.15 568.28,319.15 570.69,320.00 573.10,320.00 575.52,320.00 577.93,320.86 580.34,320.86 582.76,320.86 585.17,321.71 587.59,321.71 590.00,322.56 592.41,322.56 594.83,322.56 597.24,323.41 599.66,323.41 602.07,323.41 604.48,324.27 606.90,324.27 609.31,324.27 611.30,325.12"/>
<polyline fill="none" stroke="#ff0000" stroke-width="2" points="611.30,324.27 611.90,324.27 612.51,325.12 613.11,325.12 613.71,325.12 614.32,325.12 614.92,325.12 615.52,325.12 616.13,325.12 616.73,325.12 617.33,325.12 617.94,325.12 618.54,325.97 619.15,325.97 619.75,325.97 620.35,325.97 620.96,325.97 621.56,325.97 622.16,325.97 622.77,325.97 623.37,325.97 623.97,325.97 624.58,325.97 625.18,326.82 625.78,326.82 626.39,326.82 626.99,326.82 627.59,326.82 628.20,326.82 628.80,326.82 629.40,326.82 630.01,326.82 630.61,326.82 631.21,327.68 631.82,327.68 632.42,327.68 633.02,327.68 633.63,327.68 634.23,327.68 634.84,327.68 635.44,327.68 636.04,327.68 636.65,327.68 637.25,328.53 637.85,328.53 638.46,328.53 639.06,328.53 639.66,328.53 640.27,328.53 640.87,328.53 641.47,328.53 642.08,328.53 642.68,328.53 643.28,328.53 643.89,329.38 644.49,329.38 645.09,329.38 645.70,329.38 646.30,329.38 646.90,329.38 647.51,329.38 648.11,329.38 648.72,329.38 649.32,329.38 649.92,330.24 650.53,330.24 651.13,330.24 651.73,330.24 652.34,330.24 652.94,330.24 653.54,330.24 654.15,330.24 654.75,330.24 655.35,330.24 655.96,330.24 656.56,331.09 657.16,331.09 657.77,331.09 658.37,331.09 658.97,331.09 659.58,331.09 660.18,331.09 660.78,331.09 661.39,331.09 661.99,331.09 662.60,331.09 663.20,331.94 663.80,331.94 664.41,331.94 665.01,331.94 665.61,331.94 666.22,331.94 666.82,331.94 667.42,331.94 668.03,331.94 668.63,331.94 669.23,331.94 669.84,332.79 670.44,332.79 671.04,332.79 671.65,332.79 672.25,332.79 672.85,332.79 673.46,332.79 674.06,332.79 674.66,332.79 675.27,332.79 675.87,333.64 676.47,333.64 677.08,333.64 677.68,333.64 678.29,333.64 678.89,333.64 679.49,333.64 680.10,333.64 680.70,333.64 681.30,333.64 681.91,333.64 682.51,334.50 683.11,334.50 683.72,334.50 684.32,334.50 684.92,334.50 685.53,334.50 686.13,334.50 686.73,334.50 687.34,334.50 687.94,334.50 688.54,334.50 689.15,335.35 689.75,335.35 690.35,335.35 690.96,335.35 691.56,335.35 692.17,335.35 692.77,335.35 693.37,335.35 693.98,335.35 694.58,335.35 695.18,335.35 695.79,335.35 696.39,336.20 696.99,336.20 697.60,336.20 698.20,336.20 698.80,336.20 699.41,336.20 700.01,336.20 700.61,336.20 701.22,336.20 701.82,336.20 702.42,336.20 703.03,337.06 703.63,337.06 704.23,337.06 704.84,337.06 705.44,337.06 706.05,337.06 706.65,337.06 707.25,337.06 707.86,337.06 708.46,337.06 709.06,337.06 709.67,337.91 710.27,337.91 710.87,337.91 711.48,337.91 712.08,337.91 712.68,337.91 713.29,337.91 713.89,337.91 714.49,337.91 715.10,337.91 715.70,337.91 716.30,337.91 716.91,338.76 717.51,338.76 718.11,338.76 718.72,338.76 719.32,338.76 719.92,338.76 720.53,338.76 721.13,338.76 721.74,338.76 722.34,338.76 722.94,338.76 723.55,339.61 724.15,339.61 724.75,339.61 725.36,339.61 725.96,339.61 726.56,339.61 727.17,339.61 727.77,339.61 728.37,339.61 728.98,339.61 729.58,339.61 730.18,339.61 730.79,340.46 731.39,340.46 731.99,340.46 732.60,340.46 733.20,340.46 733.80,340.46 734.41,340.46 735.01,340.46 735.62,340.46 736.22,340.46 736.82,340.46 737.43,341.32 738.03,341.32 738.63,341.32 739.24,341.32 739.84,341.32 740.44,341.32 741.05,341.32 741.65,341.32 742.25,341.32 742.86,341.32 743.46,341.32 744.06,341.32 744.67,342.17 745.27,342.17 745.87,342.17 746.48,342.17 747.08,342.17 747.68,342.17 748.29,342.17 748.89,342.17 749.50,342.17 750.10,342.17 750.70,342.17 751.31,342.17 751.91,343.02 752.51,343.02 753.12,343.02 753.72,343.02 754.32,343.02 754.93,343.02 755.53,343.02 756.13,343.02 756.74,343.02 757.34,343.02 757.94,343.02 758.55,343.02 759.15,343.88 759.75,343.88 760.36,343.88 760.96,343.88 761.56,343.88 762.17,343.88 762.77,343.88 763.37,343.88 763.98,343.88 764.58,343.88 765.19,343.88 765.79,343.88 766.39,343.88 767.00,344.73 767.60,344.73 768.20,344.73 768.81,344.73 769.41,344.73 770.01,344.73 770.62,344.73 771.22,344.73 771.82,344.73 772.43,344.73 773.03,344.73 773.63,344.73 774.24,345.58 774.84,345.58 775.44,345.58 776.05,345.58 776.65,345.58 777.25,345.58 777.86,345.58 778.46,345.58 779.07,345.58 779.67,345.58 780.27,345.58 780.88,345.58 781.48,346.43 782.08,346.43 782.69,346.43 783.29,346.43 783.89,346.43 784.50,346.43 785.10,346.43 785.70,346.43 786.31,346.43 786.91,346.43 787.51,346.43 788.12,346.43 788.72,346.43 789.32,347.29 789.93,347.29 790.53,347.29 791.13,347.29 791.74,347.29 792.34,347.29 792.95,347.29 793.55,347.29 794.15,347.29 794.76,347.29 795.36,347.29 795.96,347.29 796.57,347.29 797.17,348.14 797.77,348.14 798.38,348.14 798.98,348.14 799.58,348.14 800.19,348.14 800.79,348.14 801.39,348.14 802.00,348.14 802.60,348.14 803.20,348.14 803.81,348.14 804.41,348.99 805.01,348.99 805.62,348.99 806.22,348.99 806.82,348.99 807.43,348.99 808.03,348.99 808.64,348.99 809.24,348.99 809.84,348.99 810.45,348.99 811.05,348.99 811.65,348.99 812.26,349.84 812.86,349.84 813.46,349.84 814.07,349.84 814.67,349.84 815.27,349.84 815.88,349.84 816.48,349.84 817.08,349.84 817.69,349.84 818.29,349.84 818.89,349.84 819.50,349.84 820.10,349.84 820.70,350.69 821.31,350.69 821.91,350.69 822.52,350.69 823.12,350.69 823.72,350.69 824.33,350.69 824.93,350.69 825.53,350.69 826.14,350.69 826.74,350.69 827.34,350.69 827.95,350.69 828.55,351.55 829.15,351.55 829.76,351.55 830.36,351.55 830.96,351.55 831.57,351.55 832.17,351.55 832.77,351.55 833.38,351.55 833.98,351.55 834.58,351.55 835.19,351.55 835.79,351.55 836.40,352.40 837.00,352.40 837.60,352.40 838.21,352.40 838.81,352.40 839.41,352.40 840.02,352.40 840.62,352.40 841.22,352.40 841.83,352.40 842.43,352.40 843.03,352.40 843.64,352.40 844.24,352.40 844.84,353.25 845.45,353.25 846.05,353.25 846.65,353.25 847.26,353.25 847.86,353.25 848.46,353.25 849.07,353.25 849.67,353.25 850.27,353.25 850.88,353.25 851.48,353.25 852.09,353.25 852.69,353.25 853.29,354.11 853.90,354.11 854.50,354.11 855.10,354.11 855.71,354.11 856.31,354.11 856.91,354.11 857.52,354.11 858.12,354.11 858.72,354.11 859.33,354.11 859.93,354.11 860.53,354.11 861.14,354.11 861.74,354.96 862.34,354.96 862.95,354.96 863.55,354.96 864.15,354.96 864.76,354.96 865.36,354.96 865.97,354.96 866.57,354.96 867.17,354.96 867.78,354.96 868.38,354.96 868.98,354.96 869.59,354.96 870.19,355.81 870.79,355.81 871.40,355.81 872.00,355.81 872.60,355.81 873.21,355.81 873.81,355.81 874.41,355.81 875.02,355.81 875.62,355.81 876.22,355.81 876.83,355.81 877.43,355.81 878.03,355.81 878.64,356.66 879.24,356.66 879.85,356.66 880.45,356.66 881.05,356.66 881.66,356.66 882.26,356.66 882.86,356.66 883.47,356.66 884.07,356.66 884.67,356.66 885.28,356.66 885.88,356.66 886.48,356.66 887.09,356.66 887.69,357.51 888.29,357.51 888.90,357.51 889.50,357.51 890.10,357.51 890.71,357.51 891.31,357.51 891.91,357.51 892.52,357.51 893.12,357.51 893.72,357.51 894.33,357.51 894.93,357.51 895.54,357.51 896.14,357.51 896.74,358.37 897.35,358.37 897.95,358.37 898.55,358.37 899.16,358.37 899.76,358.37 900.36,358.37 900.97,358.37 901.57,358.37 902.17,358.37 902.78,358.37 903.38,358.37 903.98,358.37 904.59,358.37 905.19,358.37 905.79,359.22 906.40,359.22 907.00,359.22 907.60,359.22 908.21,359.22 908.81,359.22 909.42,359.22 910.02,359.22 910.62,359.22 911.23,359.22 911.83,359.22 912.43,359.22 913.04,359.22 913.64,359.22 914.24,359.22 914.85,360.07 915.45,360.07 916.05,360.07 916.66,360.07 917.26,360.07 917.86,360.07 918.47,360.07 919.07,360.07 919.67,360.07 920.28,360.07 920.88,360.07 921.48,360.07 922.09,360.07 922.69,360.07 923.30,360.07 923.90,360.07 924.50,360.93 925.11,360.93 925.71,360.93 926.31,360.93 926.92,360.93 927.52,360.93 928.12,360.93 928.73,360.93 929.33,360.93 929.93,360.93 930.54,360.93 931.14,360.93 931.74,360.93 932.35,360.93 932.95,360.93 933.55,361.78 934.16,361.78 934.76,361.78 935.36,361.78 935.97,361.78 936.57,361.78 937.17,361.78 937.78,361.78 938.38,361.78 938.99,361.78 939.59,361.78 940.19,361.78 940.80,361.78 941.40,361.78 942.00,361.78 942.50,361.78"/>
<polyline fill="none" stroke="#000" stroke-width="2" stroke-linejoin="round" points="73.50,326.82 74.10,326.82 74.71,326.82 75.31,326.82 75.91,326.82 76.52,326.82 77.12,326.82 77.72,326.82 78.33,326.82 78.93,326.82 79.53,327.68 80.14,327.68 80.74,327.68 81.35,327.68 81.95,327.68 82.55,327.68 83.16,327.68 83.76,327.68 84.36,327.68 84.97,327.68 85.57,327.68 86.17,327.68 86.78,327.68 87.38,328.53 87.98,328.53 88.59,328.53 89.19,328.53 89.79,328.53 90.40,328.53 91.00,328.53 91.60,328.53 92.21,328.53 92.81,328.53 93.41,328.53 94.02,328.53 94.62,328.53 95.23,328.53 95.83,329.38 96.43,329.38 97.04,329.38 97.64,329.38 98.24,329.38 98.85,329.38 99.45,329.38 100.05,329.38 100.66,329.38 101.26,329.38 101.86,329.38 102.47,329.38 103.07,329.38 103.67,329.38 104.28,330.24 104.88,330.24 105.48,330.24 106.09,330.24 106.69,330.24 107.29,330.24 107.90,330.24 108.50,330.24 109.10,330.24 109.71,330.24 110.31,330.24 110.92,330.24 111.52,330.24 112.12,330.24 112.73,331.09 113.33,331.09 113.93,331.09 114.54,331.09 115.14,331.09 115.74,331.09 116.35,331.09 116.95,331.09 117.55,331.09 118.16,331.09 118.76,331.09 119.36,331.09 119.97,331.09 120.57,331.09 121.17,331.94 121.78,331.94 122.38,331.94 122.98,331.94 123.59,331.94 124.19,331.94 124.80,331.94 125.40,331.94 125.90,331.94 131.00,233.00 133.70,233.90 135.70,232.80 143.30,232.80 145.70,229.90 149.00,229.90 151.30,231.00 155.50,233.05 156.10,233.05 156.71,233.05 157.31,233.05 157.91,233.05 158.52,233.90 159.12,233.90 159.72,233.90 160.33,233.90 160.93,233.90 161.53,234.76 162.14,234.76 162.74,234.76 163.35,234.76 163.95,234.76 164.55,235.61 165.16,235.61 165.76,235.61 166.36,235.61 166.97,235.61 167.57,235.61 168.17,236.46 168.78,236.46 169.38,236.46 169.98,236.46 170.59,236.46 171.19,237.31 171.79,237.31 172.40,237.31 173.00,237.31 173.60,237.31 174.21,238.16 174.81,238.16 175.41,238.16 176.02,238.16 176.62,238.16 177.23,238.16 177.83,239.02 178.43,239.02 179.04,239.02 179.64,239.02 180.24,239.02 180.85,239.87 181.45,239.87 182.05,239.87 182.66,239.87 183.26,239.87 183.86,239.87 184.47,240.72 185.07,240.72 185.67,240.72 186.28,240.72 186.88,240.72 187.48,241.57 188.09,241.57 188.69,241.57 189.29,241.57 189.90,241.57 190.50,242.43 191.10,242.43 191.71,242.43 192.31,242.43 192.92,242.43 193.52,242.43 194.12,243.28 194.73,243.28 195.33,243.28 195.93,243.28 196.54,243.28 197.14,244.13 197.74,244.13 198.35,244.13 198.95,244.13 199.55,244.13 200.16,244.13 200.76,244.98 201.36,244.98 201.97,244.98 202.57,244.98 203.17,244.98 203.78,245.84 204.38,245.84 204.98,245.84 205.59,245.84 206.19,245.84 206.80,245.84 207.40,246.69 208.00,246.69 208.61,246.69 209.21,246.69 209.81,246.69 210.42,247.54 211.02,247.54 211.62,247.54 212.23,247.54 212.83,247.54 213.43,247.54 214.04,248.39 214.64,248.39 215.24,248.39 215.85,248.39 216.45,248.39 217.05,249.25 217.66,249.25 218.26,249.25 218.86,249.25 219.47,249.25 220.07,249.25 220.68,250.10 221.28,250.10 221.88,250.10 222.49,250.10 223.09,250.10 223.69,250.95 224.30,250.95 224.90,250.95 225.50,250.95 226.11,250.95 226.71,250.95 227.31,251.81 227.92,251.81 228.52,251.81 229.12,251.81 229.73,251.81 230.33,252.66 230.93,252.66 231.54,252.66 232.14,252.66 232.74,252.66 233.35,252.66 233.95,253.51 234.55,253.51 235.16,253.51 235.76,253.51 236.37,253.51 236.97,253.51 237.57,254.36 238.18,254.36 238.78,254.36 239.38,254.36 239.99,254.36 240.59,255.22 241.19,255.22 241.80,255.22 242.40,255.22 243.00,255.22 243.61,255.22 244.21,256.07 244.81,256.07 245.42,256.07 246.02,256.07 246.62,256.07 247.23,256.07 247.83,256.92 248.43,256.92 249.04,256.92 249.64,256.92 250.25,256.92 250.85,257.77 251.45,257.77 252.06,257.77 252.66,257.77 253.26,257.77 253.87,257.77 254.47,258.62 255.07,258.62 255.68,258.62 256.28,258.62 256.88,258.62 257.49,258.62 258.09,259.48 258.69,259.48 259.30,259.48 259.90,259.48 260.50,259.48 261.11,259.48 261.71,260.33 262.31,260.33 262.92,260.33 263.52,260.33 264.13,260.33 264.73,260.33 265.33,261.18 265.94,261.18 266.54,261.18 267.14,261.18 267.75,261.18 268.35,262.03 268.95,262.03 269.56,262.03 270.16,262.03 270.76,262.03 271.37,262.03 271.97,262.89 272.57,262.89 273.18,262.89 273.78,262.89 274.38,262.89 274.99,262.89 275.59,263.74 276.19,263.74 276.80,263.74 277.40,263.74 278.00,263.74 278.61,263.74 279.21,264.59 279.82,264.59 280.42,264.59 281.02,264.59 281.63,264.59 282.23,264.59 282.83,265.44 283.44,265.44 284.04,265.44 284.64,265.44 285.25,265.44 285.85,265.44 286.45,266.30 287.06,266.30 287.66,266.30 288.26,266.30 288.87,266.30 289.47,266.30 290.07,267.15 290.68,267.15 291.28,267.15 291.88,267.15 292.49,267.15 293.09,267.15 293.70,268.00 294.30,268.00 294.90,268.00 295.51,268.00 296.11,268.00 296.71,268.00 297.32,268.86 297.92,268.86 298.52,268.86 299.13,268.86 299.73,268.86 300.33,268.86 300.94,269.71 301.54,269.71 302.14,269.71 302.75,269.71 303.35,269.71 303.95,269.71 304.56,270.56 305.16,270.56 305.76,270.56 306.37,270.56 306.97,270.56 307.58,270.56 308.18,271.41 308.78,271.41 309.39,271.41 309.99,271.41 310.59,271.41 311.20,271.41 311.80,272.26 312.40,272.26 313.01,272.26 313.61,272.26 314.21,272.26 314.82,272.26 315.42,273.12 316.02,273.12 316.63,273.12 317.23,273.12 317.83,273.12 318.44,273.12 319.04,273.12 319.64,273.97 320.25,273.97 320.85,273.97 321.45,273.97 322.06,273.97 322.66,273.97 323.27,274.82 323.87,274.82 324.47,274.82 325.08,274.82 325.68,274.82 326.28,274.82 326.89,275.68 327.49,275.68 328.09,275.68 328.70,275.68 329.30,275.68 329.90,275.68 330.51,276.53 331.11,276.53 331.71,276.53 332.32,276.53 332.92,276.53 333.52,276.53 334.13,276.53 334.73,277.38 335.33,277.38 335.94,277.38 336.54,277.38 337.15,277.38 337.75,277.38 338.35,278.23 338.96,278.23 339.56,278.23 340.16,278.23 340.77,278.23 341.37,278.23 341.97,279.09 342.58,279.09 343.18,279.09 343.78,279.09 344.39,279.09 344.99,279.09 345.59,279.09 346.20,279.94 346.80,279.94 347.40,279.94 348.01,279.94 348.61,279.94 349.21,279.94 349.82,280.79 350.42,280.79 351.03,280.79 351.63,280.79 352.23,280.79 352.84,280.79 353.44,280.79 354.04,281.64 354.65,281.64 355.25,281.64 355.85,281.64 356.46,281.64 357.06,281.64 357.66,282.50 358.27,282.50 358.87,282.50 359.47,282.50 360.08,282.50 360.68,282.50 361.28,282.50 361.89,283.35 362.49,283.35 363.09,283.35 363.70,283.35 364.30,283.35 364.90,283.35 365.51,283.35 366.11,284.20 366.72,284.20 367.32,284.20 367.92,284.20 368.53,284.20 369.13,284.20 369.73,285.05 370.34,285.05 370.94,285.05 371.54,285.05 372.15,285.05 372.75,285.05 373.35,285.05 373.96,285.91 374.56,285.91 375.16,285.91 375.77,285.91 376.37,285.91 376.97,285.91 377.58,285.91 378.18,286.76 378.78,286.76 379.39,286.76 379.99,286.76 380.60,286.76 381.20,286.76 381.80,287.61 382.41,287.61 383.01,287.61 383.61,287.61 384.22,287.61 384.82,287.61 385.42,287.61 386.03,288.46 386.63,288.46 387.23,288.46 387.84,288.46 388.44,288.46 389.04,288.46 389.65,288.46 390.25,289.32 390.85,289.32 391.46,289.32 392.06,289.32 392.66,289.32 393.27,289.32 393.87,289.32 394.48,290.17 395.08,290.17 395.68,290.17 396.29,290.17 396.89,290.17 397.49,290.17 398.10,290.17 398.70,291.02 399.30,291.02 399.91,291.02 400.51,291.02 401.11,291.02 401.72,291.02 402.32,291.02 402.92,291.87 403.53,291.87 404.13,291.87 404.73,291.87 405.34,291.87 405.94,291.87 406.54,291.87 407.15,292.73 407.75,292.73 408.35,292.73 408.96,292.73 409.56,292.73 410.17,292.73 410.77,292.73 411.37,293.58 411.98,293.58 412.58,293.58 413.18,293.58 413.79,293.58 414.39,293.58 414.99,293.58 415.60,294.43 416.20,294.43 416.80,294.43 417.41,294.43 418.01,294.43 418.61,294.43 419.22,294.43 419.82,294.43 420.42,295.28 421.03,295.28 421.63,295.28 422.23,295.28 422.84,295.28 423.44,295.28 424.05,295.28 424.65,296.13 425.25,296.13 425.86,296.13 426.46,296.13 427.06,296.13 427.67,296.13 428.27,296.13 428.87,296.99 429.48,296.99 430.08,296.99 430.68,296.99 431.29,296.99 431.89,296.99 432.49,296.99 433.10,296.99 433.70,297.84 434.30,297.84 434.91,297.84 435.51,297.84 436.11,297.84 436.72,297.84 437.32,297.84 437.93,298.69 438.53,298.69 439.13,298.69 439.74,298.69 440.34,298.69 440.94,298.69 441.55,298.69 442.15,298.69 442.75,299.54 443.36,299.54 443.96,299.54 444.56,299.54 445.17,299.54 445.77,299.54 446.37,299.54 446.98,300.40 447.58,300.40 448.18,300.40 448.79,300.40 449.39,300.40 449.99,300.40 450.60,300.40 451.20,300.40 451.80,301.25 452.41,301.25 453.01,301.25 453.62,301.25 454.22,301.25 454.82,301.25 455.43,301.25 456.03,301.25 456.63,302.10 457.24,302.10 457.84,302.10 458.44,302.10 459.05,302.10 459.65,302.10 460.25,302.10 460.86,302.10 461.46,302.95 462.06,302.95 462.67,302.95 463.27,302.95 463.87,302.95 464.48,302.95 465.08,302.95 465.68,302.95 466.29,303.81 466.89,303.81 467.50,303.81 468.10,303.81 468.70,303.81 469.31,303.81 469.91,303.81 470.51,303.81 471.12,304.66 471.72,304.66 472.32,304.66 472.93,304.66 473.53,304.66 474.13,304.66 474.74,304.66 475.34,304.66 475.94,305.51 476.55,305.51 477.15,305.51 477.75,305.51 478.36,305.51 478.96,305.51 479.56,305.51 480.17,305.51 480.77,306.37 481.38,306.37 481.98,306.37 482.58,306.37 483.19,306.37 483.79,306.37 484.39,306.37 485.00,306.37 485.60,307.22 486.20,307.22 486.81,307.22 487.41,307.22 488.01,307.22 488.62,307.22 489.22,307.22 489.82,307.22 490.43,307.22 491.03,308.07 491.63,308.07 492.24,308.07 492.84,308.07 493.44,308.07 494.05,308.07 494.65,308.07 495.25,308.07 495.86,308.92 496.46,308.92 497.07,308.92 497.67,308.92 498.27,308.92 498.88,308.92 499.48,308.92 500.08,308.92 500.69,308.92 501.29,309.78 501.89,309.78 502.50,309.78 503.10,309.78 503.70,309.78 504.31,309.78 504.91,309.78 505.51,309.78 506.12,309.78 506.72,310.63 507.32,310.63 507.93,310.63 508.53,310.63 509.13,310.63 509.74,310.63 510.34,310.63 510.95,310.63 511.55,311.48 512.15,311.48 512.76,311.48 513.36,311.48 513.96,311.48 514.57,311.48 515.17,311.48 515.77,311.48 516.38,311.48 516.98,312.33 517.58,312.33 518.19,312.33 518.79,312.33 519.39,312.33 520.00,312.33 520.60,312.33 521.20,312.33 521.81,312.33 522.41,313.18 523.01,313.18 523.62,313.18 524.22,313.18 524.83,313.18 525.43,313.18 526.03,313.18 526.64,313.18 527.24,313.18 527.84,313.18 528.45,314.04 529.05,314.04 529.65,314.04 530.26,314.04 530.86,314.04 531.46,314.04 532.07,314.04 532.67,314.04 533.27,314.04 533.88,314.89 534.48,314.89 535.08,314.89 535.69,314.89 536.29,314.89 536.89,314.89 537.50,314.89 538.10,314.89 538.70,314.89 539.31,314.89 539.91,315.74 540.52,315.74 541.12,315.74 541.72,315.74 542.33,315.74 542.93,315.74 543.53,315.74 544.14,315.74 544.74,315.74 545.34,316.59 545.95,316.59 546.55,316.59 547.15,316.59 547.76,316.59 548.36,316.59 548.96,316.59 549.57,316.59 550.17,316.59 550.77,316.59 551.38,317.45 551.98,317.45 552.58,317.45 553.19,317.45 553.79,317.45 554.40,317.45 555.00,317.45 555.60,317.45 556.21,317.45 556.81,317.45 557.41,318.30 558.02,318.30 558.62,318.30 559.22,318.30 559.83,318.30 560.43,318.30 561.03,318.30 561.64,318.30 562.24,318.30 562.84,318.30 563.45,318.30 564.05,319.15 564.65,319.15 565.26,319.15 565.86,319.15 566.46,319.15 567.07,319.15 567.67,319.15 568.28,319.15 568.88,319.15 569.48,319.15 570.09,320.00 570.69,320.00 571.29,320.00 571.90,320.00 572.50,320.00 573.10,320.00 573.71,320.00 574.31,320.00 574.91,320.00 575.52,320.00 576.12,320.00 576.72,320.86 577.33,320.86 577.93,320.86 578.53,320.86 579.14,320.86 579.74,320.86 580.34,320.86 580.95,320.86 581.55,320.86 582.15,320.86 582.76,320.86 583.36,321.71 583.97,321.71 584.57,321.71 585.17,321.71 585.78,321.71 586.38,321.71 586.98,321.71 587.59,321.71 588.19,321.71 588.79,321.71 589.40,321.71 590.00,322.56 590.60,322.56 591.21,322.56 591.81,322.56 592.41,322.56 593.02,322.56 593.62,322.56 594.22,322.56 594.83,322.56 595.43,322.56 596.03,322.56 596.64,323.41 597.24,323.41 597.85,323.41 598.45,323.41 599.05,323.41 599.66,323.41 600.26,323.41 600.86,323.41 601.47,323.41 602.07,323.41 602.67,323.41 603.28,323.41 603.88,324.27 604.48,324.27 605.09,324.27 605.69,324.27 606.29,324.27 606.90,324.27 607.50,324.27 608.10,324.27 608.71,324.27 609.31,324.27 609.91,324.27 610.52,324.27 611.12,325.12 611.30,325.12 614.00,321.10 616.20,316.70 617.60,310.00 619.30,301.30 620.70,288.00 632.70,140.00 633.90,110.00 635.20,100.20 637.90,90.40 639.70,83.80 643.20,80.70 648.10,84.20 652.60,86.00 660.60,88.70 663.20,91.53 663.80,91.53 664.41,91.53 665.01,92.39 665.61,92.39 666.22,92.39 666.82,93.24 667.42,93.24 668.03,93.24 668.63,93.24 669.23,94.09 669.84,94.09 670.44,94.09 671.05,94.95 671.65,94.95 672.25,94.95 672.86,95.80 673.46,95.80 674.06,95.80 674.67,96.65 675.27,96.65 675.87,96.65 676.48,96.65 677.08,97.50 677.68,97.50 678.29,97.50 678.89,98.36 679.49,98.36 680.10,98.36 680.70,99.21 681.30,99.21 681.91,99.21 682.51,99.21 683.11,100.06 683.72,100.06 684.32,100.06 684.92,100.91 685.53,100.91 686.13,100.91 686.74,101.77 687.34,101.77 687.94,101.77 688.55,101.77 689.15,102.62 689.75,102.62 690.36,102.62 690.96,103.47 691.56,103.47 692.17,103.47 692.77,104.32 693.37,104.32 693.98,104.32 694.58,104.32 695.18,105.18 695.79,105.18 696.39,105.18 696.99,106.03 697.60,106.03 698.20,106.03 698.80,106.88 699.41,106.88 700.01,106.88 700.62,106.88 701.22,107.73 701.82,107.73 702.43,107.73 703.03,108.59 703.63,108.59 704.24,108.59 704.84,109.44 705.44,109.44 706.05,109.44 706.65,109.44 707.25,110.29 707.86,110.29 708.46,110.29 709.06,111.14 709.67,111.14 710.27,111.14 710.87,111.99 711.48,111.99 712.08,111.99 712.68,111.99 713.29,112.85 713.89,112.85 714.50,112.85 715.10,113.70 715.70,113.70 716.31,113.70 716.91,114.55 717.51,114.55 718.12,114.55 718.72,114.55 719.32,115.40 719.93,115.40 720.53,115.40 721.13,116.26 721.74,116.26 722.34,116.26 722.94,117.11 723.55,117.11 724.15,117.11 724.75,117.11 725.36,117.96 725.96,117.96 726.56,117.96 727.17,118.81 727.77,118.81 728.37,118.81 728.98,118.81 729.58,119.67 730.19,119.67 730.79,119.67 731.39,120.52 732.00,120.52 732.60,120.52 733.20,121.37 733.81,121.37 734.41,121.37 735.01,121.37 735.62,122.22 736.22,122.22 736.82,122.22 737.43,123.08 738.03,123.08 738.63,123.08 739.24,123.08 739.84,123.93 740.44,123.93 741.05,123.93 741.65,124.78 742.25,124.78 742.86,124.78 743.46,124.78 744.07,125.63 744.67,125.63 745.27,125.63 745.88,126.49 746.48,126.49 747.08,126.49 747.69,127.34 748.29,127.34 748.89,127.34 749.50,127.34 750.10,128.19 750.70,128.19 751.31,128.19 751.91,129.05 752.51,129.05 753.12,129.05 753.72,129.05 754.32,129.90 754.93,129.90 755.53,129.90 756.13,130.75 756.74,130.75 757.34,130.75 757.95,130.75 758.55,131.60 759.15,131.60 759.76,131.60 760.36,132.45 760.96,132.45 761.57,132.45 762.17,132.45 762.77,133.31 763.38,133.31 763.98,133.31 764.58,134.16 765.19,134.16 765.79,134.16 766.39,134.16 767.00,135.01 767.60,135.01 768.20,135.01 768.81,135.87 769.41,135.87 770.01,135.87 770.62,135.87 771.22,136.72 771.82,136.72 772.43,136.72 773.03,137.57 773.64,137.57 774.24,137.57 774.84,137.57 775.45,138.42 776.05,138.42 776.65,138.42 777.26,139.28 777.86,139.28 778.46,139.28 779.07,139.28 779.67,140.13 780.27,140.13 780.88,140.13 781.48,140.13 782.08,140.98 782.69,140.98 783.29,140.98 783.89,141.83 784.50,141.83 785.10,141.83 785.70,141.83 786.31,142.69 786.91,142.69 787.52,142.69 788.12,143.54 788.72,143.54 789.33,143.54 789.93,143.54 790.53,144.39 791.14,144.39 791.74,144.39 792.34,144.39 792.95,145.24 793.55,145.24 794.15,145.24 794.76,146.10 795.36,146.10 795.96,146.10 796.57,146.10 797.17,146.95 797.77,146.95 798.38,146.95 798.98,147.80 799.58,147.80 800.19,147.80 800.79,147.80 801.40,148.65 802.00,148.65 802.60,148.65 803.21,148.65 803.81,149.50 804.41,149.50 805.02,149.50 805.62,150.36 806.22,150.36 806.83,150.36 807.43,150.36 808.03,151.21 808.64,151.21 809.24,151.21 809.84,151.21 810.45,152.06 811.05,152.06 811.65,152.06 812.26,152.91 812.86,152.91 813.46,152.91 814.07,152.91 814.67,153.77 815.27,153.77 815.88,153.77 816.48,153.77 817.09,154.62 817.69,154.62 818.29,154.62 818.90,154.62 819.50,155.47 820.10,155.47 820.71,155.47 821.31,156.32 821.91,156.32 822.52,156.32 823.12,156.32 823.72,157.18 824.33,157.18 824.93,157.18 825.53,157.18 826.14,158.03 826.74,158.03 827.34,158.03 827.95,158.03 828.55,158.88 829.15,158.88 829.76,158.88 830.36,158.88 830.97,159.73 831.57,159.73 832.17,159.73 832.78,160.59 833.38,160.59 833.98,160.59 834.59,160.59 835.19,161.44 835.79,161.44 836.40,161.44 837.00,161.44 837.60,162.29 838.21,162.29 838.81,162.29 839.41,162.29 840.02,163.14 840.62,163.14 841.22,163.14 841.83,163.14 842.43,164.00 843.03,164.00 843.64,164.00 844.24,164.00 844.85,164.85 845.45,164.85 846.05,164.85 846.66,164.85 847.26,165.70 847.86,165.70 848.47,165.70 849.07,165.70 849.67,166.56 850.28,166.56 850.88,166.56 851.48,166.56 852.09,167.41 852.69,167.41 853.29,167.41 853.90,167.41 854.50,168.26 855.10,168.26 855.71,168.26 856.31,169.11 856.91,169.11 857.52,169.11 858.12,169.11 858.72,169.97 859.33,169.97 859.93,169.97 860.54,169.97 861.14,169.97 861.74,170.82 862.35,170.82 862.95,170.82 863.55,170.82 864.16,171.67 864.76,171.67 865.36,171.67 865.97,171.67 866.57,172.52 867.17,172.52 867.78,172.52 868.38,172.52 868.98,173.38 869.59,173.38 870.19,173.38 870.79,173.38 871.40,174.23 872.00,174.23 872.60,174.23 873.21,174.23 873.81,175.08 874.42,175.08 875.02,175.08 875.62,175.08 876.23,175.93 876.83,175.93 877.43,175.93 878.04,175.93 878.64,176.78 879.24,176.78 879.85,176.78 880.45,176.78 881.05,177.64 881.66,177.64 882.26,177.64 882.86,177.64 883.47,177.64 884.07,178.49 884.67,178.49 885.28,178.49 885.88,178.49 886.48,179.34 887.09,179.34 887.69,179.34 888.30,179.34 888.90,180.19 889.50,180.19 890.11,180.19 890.71,180.19 891.31,181.05 891.92,181.05 892.52,181.05 893.12,181.05 893.73,181.05 894.33,181.90 894.93,181.90 895.54,181.90 896.14,181.90 896.74,182.75 897.35,182.75 897.95,182.75 898.55,182.75 899.16,183.61 899.76,183.61 900.36,183.61 900.97,183.61 901.57,183.61 902.17,184.46 902.78,184.46 903.38,184.46 903.99,184.46 904.59,185.31 905.19,185.31 905.80,185.31 906.40,185.31 907.00,185.31 907.61,186.16 908.21,186.16 908.81,186.16 909.42,186.16 910.02,187.02 910.62,187.02 911.23,187.02 911.83,187.02 912.43,187.87 913.04,187.87 913.64,187.87 914.24,187.87 914.85,187.87 915.45,188.72 916.05,188.72 916.66,188.72 917.26,188.72 917.87,188.72 918.47,189.57 919.07,189.57 919.68,189.57 920.28,189.57 920.88,190.43 921.49,190.43 922.09,190.43 922.69,190.43 923.30,190.43 923.90,191.28 924.50,191.28 925.11,191.28 925.71,191.28 926.31,192.13 926.92,192.13 927.52,192.13 928.12,192.13 928.73,192.13 929.33,192.98 929.93,192.98 930.54,192.98 931.14,192.98 931.75,192.98 932.35,193.84 932.95,193.84 933.56,193.84 934.16,193.84 934.76,193.84 935.37,194.69 935.97,194.69 936.57,194.69 937.18,194.69 937.78,194.69 938.38,195.54 938.99,195.54 939.59,195.54 940.19,195.54 940.80,196.39 941.40,196.39 942.00,196.39 942.50,196.39"/>
<path d="M73,343.5H942M73,301.5H942M73,258.5H942M73,216.5H942M73,173.5H942M73,130.5H942M73,88.5H942M73,386H942M189.5,45V386M305.5,45V386M421.5,45V386M536.5,45V386M652.5,45V386M768.5,45V386M884.5,45V386" stroke="#a0a0a0" stroke-width="1" stroke-dasharray="2 2" fill="none"/>
<path d="M73.5,45.5H942.5V386.5H73.5ZM73.5,386.5h4.5M942.5,386.5h-4.5M73.5,343.5h4.5M942.5,343.5h-4.5M73.5,301.5h4.5M942.5,301.5h-4.5M73.5,258.5h4.5M942.5,258.5h-4.5M73.5,216.5h4.5M942.5,216.5h-4.5M73.5,173.5h4.5M942.5,173.5h-4.5M73.5,130.5h4.5M942.5,130.5h-4.5M73.5,88.5h4.5M942.5,88.5h-4.5M73.5,45.5h4.5M942.5,45.5h-4.5M73.5,45.5v4.5M73.5,386.5v-4.5M189.5,45.5v4.5M189.5,386.5v-4.5M305.5,45.5v4.5M305.5,386.5v-4.5M421.5,45.5v4.5M421.5,386.5v-4.5M536.5,45.5v4.5M536.5,386.5v-4.5M652.5,45.5v4.5M652.5,386.5v-4.5M768.5,45.5v4.5M768.5,386.5v-4.5M884.5,45.5v4.5M884.5,386.5v-4.5" stroke="#000" stroke-width="1" fill="none"/>
<path d="M559.5,44V386" stroke="#ff0000" stroke-width="1"/>
<text x="64" y="390.0" text-anchor="end">0.5</text>
<text x="64" y="347.4" text-anchor="end">1</text>
<text x="64" y="304.8" text-anchor="end">1.5</text>
<text x="64" y="262.1" text-anchor="end">2</text>
<text x="64" y="219.5" text-anchor="end">2.5</text>
<text x="64" y="176.9" text-anchor="end">3</text>
<text x="64" y="134.2" text-anchor="end">3.5</text>
<text x="64" y="91.6" text-anchor="end">4</text>
<text x="64" y="49.0" text-anchor="end">4.5</text>
<text x="73.5" y="405" text-anchor="middle">18.12</text>
<text x="189.4" y="405" text-anchor="middle">20.12</text>
<text x="305.2" y="405" text-anchor="middle">22.12</text>
<text x="421.1" y="405" text-anchor="middle">24.12</text>
<text x="537.0" y="405" text-anchor="middle">26.12</text>
<text x="652.8" y="405" text-anchor="middle">28.12</text>
<text x="768.7" y="405" text-anchor="middle">30.12</text>
<text x="884.6" y="405" text-anchor="middle">01.01</text>
<text x="507.5" y="27" text-anchor="middle" xml:space="preserve">Painannevarasto / Depression storage   Loukinen</text>
<text x="507.5" y="427" text-anchor="middle">Päivä / Date</text>
<text transform="translate(16.5,215) rotate(-90)" text-anchor="middle">Painannevarasto / Depression storage (mm)</text>
<text x="9" y="445.5" style="font-size:16px">2025-12-26 10:24:23 EET</text>
<text x="1032" y="57" text-anchor="end">meps</text>
<text x="1032" y="72" text-anchor="end">meps-med</text>
<text x="1032" y="87" text-anchor="end">min-max</text>
<text x="1032" y="102" text-anchor="end">95%-5%</text>
<text x="1032" y="117" text-anchor="end">75%-25%</text>
<text x="1032" y="132" text-anchor="end">mediaani</text>
<text x="1032" y="147" text-anchor="end">Har.</text>
<text x="1032" y="162" text-anchor="end">IL</text>
<text x="1032" y="177" text-anchor="end">Det.</text>
<rect x="1040" y="49" width="42" height="8" fill="#ccccff"/>
<rect x="1041" y="67" width="41" height="2" fill="#4038e0"/>
<rect x="1040" y="79" width="42" height="8" fill="#ffff66"/>
<rect x="1040" y="94" width="42" height="8" fill="#b0ff68"/>
<rect x="1040" y="109" width="42" height="8" fill="#00ff00"/>
<rect x="1041" y="127" width="41" height="2" fill="#007000"/>
<rect x="1041" y="142" width="41" height="2" fill="#ff7f00"/>
<rect x="1041" y="157" width="41" height="2" fill="#ff0000"/>
<rect x="1041" y="172" width="41" height="2" fill="#000000"/>
</svg></body></html>
